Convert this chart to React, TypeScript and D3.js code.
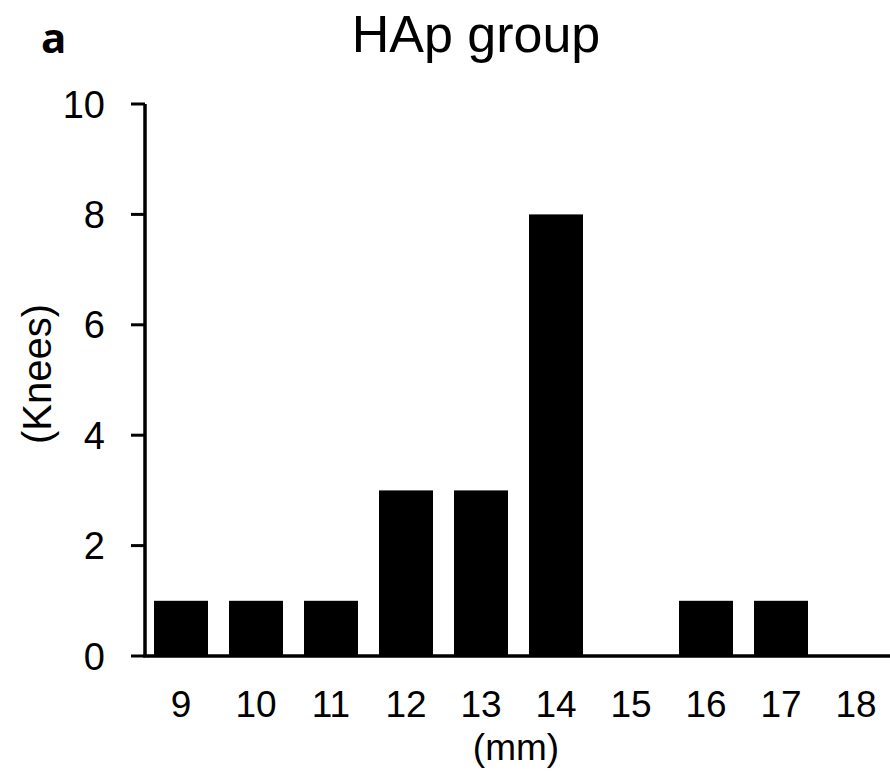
import React from 'react';
import * as d3 from 'd3';

// bar heights
const categories = ['9', '10', '11', '12', '13', '14', '15', '16', '17', '18'];
const knees = [1, 1, 1, 3, 3, 8, 0, 1, 1, 0];
const yTicks = [0, 2, 4, 6, 8, 10];

const W = 890;
const H = 776;
const font = 'Arial, "Liberation Sans", sans-serif';

export default function App() {
  const x = d3.scaleBand<string>()
    .domain(categories)
    .range([143.5, 893.5])
    .paddingInner(0.28)
    .paddingOuter(0.14);

  const y = d3.scaleLinear()
    .domain([0, 10])
    .range([656, 104]);

  const x0 = 145;

  return (
    <svg width={W} height={H} style={{ position: 'absolute', left: 0, top: 0, background: '#fff' }}>
      {/* bars */}
      {categories.map((c, i) =>
        knees[i] > 0 ? (
          <rect key={c} x={x(c)} y={y(knees[i])} width={x.bandwidth()} height={y(0) - y(knees[i])} fill="#000" />
        ) : null
      )}

      {/* y axis */}
      <line x1={x0} x2={x0} y1={y(10)} y2={y(0)} stroke="#000" strokeWidth={3.5} />
      {yTicks.map(t => (
        <g key={t}>
          <line x1={131} x2={x0} y1={y(t)} y2={y(t)} stroke="#000" strokeWidth={3} />
          <text x={105} y={y(t)} dy="0.36em" textAnchor="end" fontFamily={font} fontSize={38}>{t}</text>
        </g>
      ))}

      {/* x axis */}
      <line x1={x0 - 1.75} x2={W} y1={y(0)} y2={y(0)} stroke="#000" strokeWidth={3.5} />
      {categories.map(c => (
        <text key={c} x={(x(c) ?? 0) + x.bandwidth() / 2} y={717} textAnchor="middle" fontFamily={font} fontSize={37}>{c}</text>
      ))}

      {/* labels */}
      <text x={516} y={760} textAnchor="middle" fontFamily={font} fontSize={37}>(mm)</text>
      <text transform={`translate(51, ${(y(0) + y(10)) / 2 - 6}) rotate(-90)`} textAnchor="middle" fontFamily={font} fontSize={40}>(Knees)</text>
      <text x={476} y={52} textAnchor="middle" fontFamily={font} fontSize={52}>HAp group</text>
      <text x={41} y={53} fontFamily='"Open Sans", "Noto Sans", sans-serif' fontWeight="bold" fontSize={42}>a</text>
    </svg>
  );
}
